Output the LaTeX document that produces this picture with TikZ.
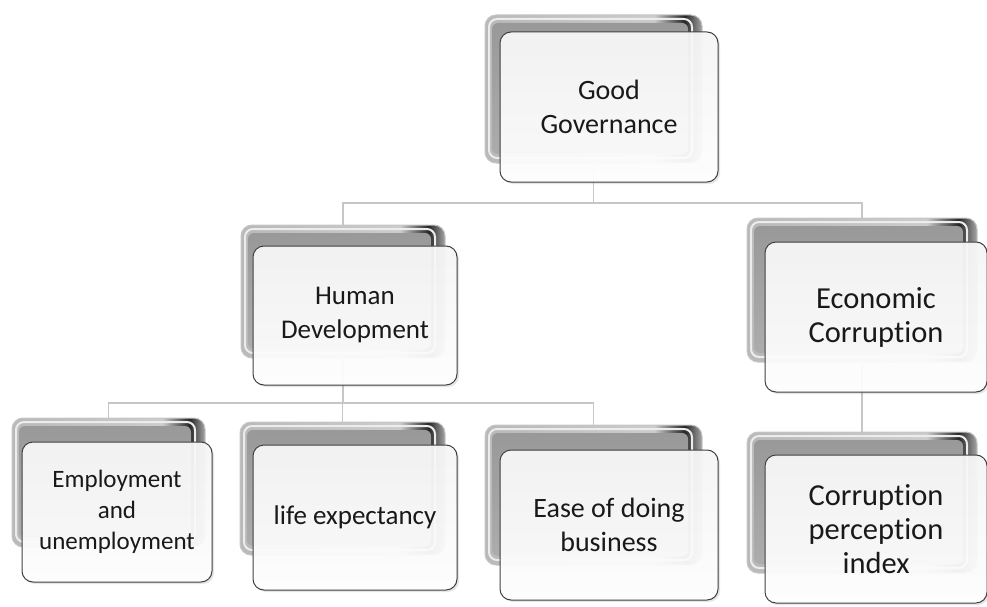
\documentclass[tikz,border=0pt]{standalone}
\usepackage{fontspec}
\setmainfont{Carlito}[Ligatures=NoCommon]
\usepackage{tikz}
\usetikzlibrary{shadows}

\pgfdeclarehorizontalshading{backshade}{100bp}{color(0bp)=(gray!55); color(25bp)=(gray!55); color(64bp)=(gray!40); color(71bp)=(black!85); color(75bp)=(gray!70); color(100bp)=(gray!70)}

\begin{document}
\begin{tikzpicture}[
		x = 1pt, y = -1pt,
		boxsize/.style 2 args = {minimum width=#1pt, minimum height=#2pt, inner sep=0pt},
		back/.style  = {rounded corners=11pt, draw=gray!45, line width=1pt, shading=backshade,
			path picture={
				\draw[white!85!gray, line width=2pt, rounded corners=8pt]
					([shift={(4pt,-4pt)}]path picture bounding box.north west) rectangle
					([shift={(-10pt,5pt)}]path picture bounding box.south east);
				\shade[top color=gray!80, bottom color=gray!65, rounded corners=6pt]
					([shift={(7pt,-8pt)}]path picture bounding box.north west) rectangle
					([shift={(-14pt,9pt)}]path picture bounding box.south east);}},
		front/.style = {rounded corners=11pt, draw=gray!50!black, line width=1pt,
			top color=gray!6, bottom color=white, fill opacity=.94, text opacity=1,
			drop shadow={shadow xshift=2pt, shadow yshift=-2pt, opacity=.2},
			align=center, text=black!90, font=\fontsize{27}{34}\selectfont},
		hugetext/.style = {font=\fontsize{30.5}{34}\selectfont},
		bigtext/.style = {font=\fontsize{28}{34}\selectfont},
		smalltext/.style = {font=\fontsize{25}{31}\selectfont},
		link/.style = {draw=gray!45, line width=1.5pt}
	]
	\useasboundingbox (0,0) rectangle (987,607);

	% back plates
	\node[back, boxsize={217}{148}] (gg-back)  at (593.5,89)  {};
	\node[back, boxsize={204}{133}] (hd-back)  at (343,291.5) {};
	\node[back, boxsize={230}{144}] (ec-back)  at (862,290)   {};
	\node[back, boxsize={193}{129}] (eu-back)  at (108.5,482.5) {};
	\node[back, boxsize={205}{133}] (le-back)  at (342.5,488.5) {};
	\node[back, boxsize={217}{140}] (edb-back) at (593.5,495) {};
	\node[back, boxsize={230}{141}] (cpi-back) at (862,502.5) {};

	% connectors
	\coordinate (bus-top) at (593,203);
	\coordinate (bus-mid) at (343,403);
	\draw[link] (gg-back.south) -- (gg-back.south |- bus-top) -| (hd-back.north);
	\draw[link] (gg-back.south |- bus-top) -| (ec-back.north);
	\draw[link] (hd-back.south) -- (hd-back.south |- bus-mid) -| (eu-back.north);
	\draw[link] (hd-back.south |- bus-mid) -| (le-back.north);
	\draw[link] (hd-back.south |- bus-mid) -| (edb-back.north);
	\draw[link] (ec-back.south) -- (cpi-back.north);

	% front cards
	\node[front, bigtext, boxsize={218}{150}] (gg)  at (609,107) {Good\\Governance};
	\node[front, boxsize={204}{139}] (hd)  at (355,315.5) {Human\\Development};
	\node[front, hugetext, boxsize={222}{150}] (ec)  at (876,317) {Economic\\Corruption};
	\node[front, smalltext, boxsize={190}{140}] (eu)  at (117,512) {Employment\\and\\unemployment};
	\node[front, boxsize={204}{145}] (le)  at (355,517.5) {life expectancy};
	\node[front, bigtext, boxsize={218}{150}] (edb) at (609,525) {Ease of doing\\business};
	\node[front, hugetext, boxsize={222}{148}] (cpi) at (876,529) {Corruption\\perception\\index};
\end{tikzpicture}
\end{document}
